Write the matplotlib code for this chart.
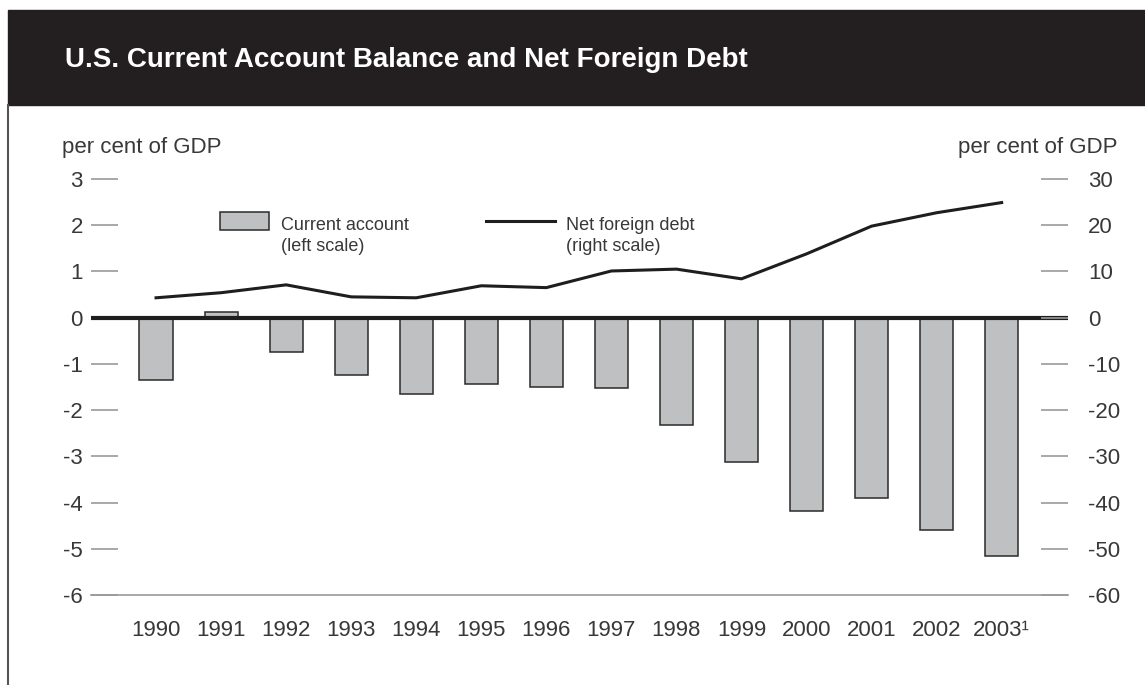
"""U.S. current account balance and net foreign debt, bar + line on twin axes"""

import matplotlib
import matplotlib.pyplot as plt
from matplotlib.patches import Rectangle
from matplotlib.lines import Line2D

matplotlib.use("agg")

plt.rcParams["font.family"] = ["Liberation Sans", "DejaVu Sans"]
plt.rcParams["axes.unicode_minus"] = False

# data
years = ["1990", "1991", "1992", "1993", "1994", "1995", "1996",
         "1997", "1998", "1999", "2000", "2001", "2002", "2003\u00b9"]
current_account = [-1.35, 0.13, -0.75, -1.23, -1.66, -1.43, -1.49,
                   -1.53, -2.32, -3.12, -4.18, -3.91, -4.59, -5.16]
net_foreign_debt = [4.3, 5.4, 7.1, 4.5, 4.3, 6.9, 6.5,
                    10.1, 10.5, 8.4, 13.8, 19.8, 22.7, 24.9]
left_ticks = [3, 2, 1, 0, -1, -2, -3, -4, -5, -6]
right_ticks = [30, 20, 10, 0, -10, -20, -30, -40, -50, -60]

W, H = 1145, 685
TXT = "#383838"
GRID = "#9a9a9a"


def fx(px):
    return px / W


def fy(py):
    return 1 - py / H


fig = plt.figure(figsize=(W / 100, H / 100), dpi=100)

# title banner and left frame line
fig.patches.append(Rectangle((fx(8), fy(105)), 1 - fx(8), fy(10) - fy(105),
                             transform=fig.transFigure, color="#231f20"))
fig.lines.append(Line2D([fx(8), fx(8)], [fy(105), 0], transform=fig.transFigure,
                        color="#555555", lw=1.5))
fig.text(fx(65), fy(67), "U.S. Current Account Balance and Net Foreign Debt",
         color="white", fontsize=20, fontweight="bold", va="baseline")

ax = fig.add_axes([fx(91), fy(595), fx(1068) - fx(91), fy(179) - fy(595)])
x = list(range(len(years)))

ax.bar(x, current_account, width=0.51, color="#bfc0c2", edgecolor="#2a2a2a",
       linewidth=1.1, zorder=2)
ax.axhline(0, color="#1e1e1e", lw=3, zorder=3)

ax.set_xlim(-1.0, 14.02)
ax.set_ylim(-6, 3)
ax.set_yticks(left_ticks)
ax.set_xticks(x)
ax.set_xticklabels(years)
ax.tick_params(axis="y", direction="in", length=19.4, width=1.2, color=GRID,
               pad=5.8, labelsize=16, labelcolor=TXT)
ax.tick_params(axis="x", length=0, pad=18, labelsize=16, labelcolor=TXT)
for s in ["top", "left", "right"]:
    ax.spines[s].set_visible(False)
ax.spines["bottom"].set_color(GRID)
ax.spines["bottom"].set_linewidth(1.2)

ax2 = ax.twinx()
ax2.plot(x, net_foreign_debt, color="#1e1e1e", lw=2.2, zorder=4)
ax2.set_ylim(-60, 30)
ax2.set_yticks(right_ticks)
ax2.tick_params(axis="y", direction="in", length=19.4, width=1.2, color=GRID,
                pad=14.4, labelsize=16, labelcolor=TXT)
for s in ax2.spines.values():
    s.set_visible(False)

# axis captions
fig.text(fx(62), fy(153), "per cent of GDP", fontsize=16, color=TXT, va="baseline")
fig.text(fx(1118), fy(153), "per cent of GDP", fontsize=16, color=TXT,
         va="baseline", ha="right")

# legend, drawn by hand
fig.patches.append(Rectangle((fx(220), fy(230)), fx(269) - fx(220), fy(212) - fy(230),
                             transform=fig.transFigure, facecolor="#bfc0c2",
                             edgecolor="#2a2a2a", lw=1.1))
fig.text(fx(281), fy(230), "Current account", fontsize=13, color=TXT, va="baseline")
fig.text(fx(281), fy(251), "(left scale)", fontsize=13, color=TXT, va="baseline")
fig.lines.append(Line2D([fx(486), fx(555)], [fy(221), fy(221)],
                        transform=fig.transFigure, color="#1e1e1e", lw=2.2))
fig.text(fx(566), fy(230), "Net foreign debt", fontsize=13, color=TXT, va="baseline")
fig.text(fx(566), fy(251), "(right scale)", fontsize=13, color=TXT, va="baseline")

fig.savefig("out.png", dpi=100)
